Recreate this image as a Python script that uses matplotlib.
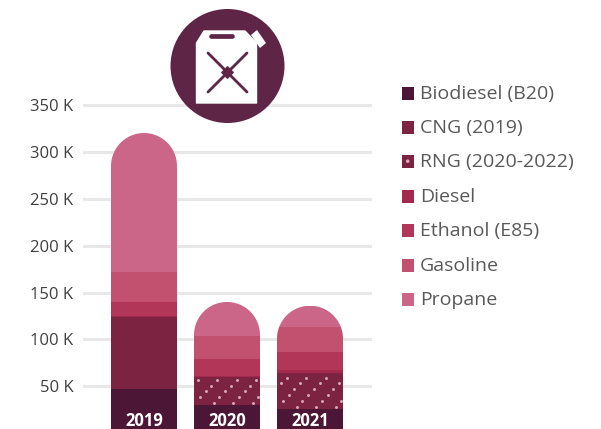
import matplotlib
matplotlib.use('Agg')
import matplotlib.pyplot as plt
import numpy as np
from matplotlib.patches import Circle, Polygon, Rectangle, PathPatch
from matplotlib.path import Path

plt.rcParams['font.family'] = ['Open Sans', 'DejaVu Sans']

W, H = 601, 429

years = ['2019', '2020', '2021']
fuels = ['Biodiesel (B20)', 'CNG (2019)', 'RNG (2020-2022)', 'Diesel',
         'Ethanol (E85)', 'Gasoline', 'Propane']
colors = ['#4C1736', '#7B2340', '#7B2340', '#A32A4E', '#B13658', '#C2506F', '#CC6688']

biodiesel = [47000, 30000, 26000]
cng = [77000, 0, 0]
rng = [0, 30000, 38000]
diesel = [500, 1000, 3500]
ethanol = [15000, 18000, 19000]
gasoline = [33000, 25000, 26500]
propane = [148000, 36000, 23000]
series = [biodiesel, cng, rng, diesel, ethanol, gasoline, propane]

yticks = [50000, 100000, 150000, 200000, 250000, 300000, 350000]
yticklabels = ['50 K', '100 K', '150 K', '200 K', '250 K', '300 K', '350 K']

fig = plt.figure(figsize=(W / 100, H / 100), dpi=100, facecolor='white')

# axes placed in pixels: 83 px per category, 0.936 px per 1000
px_per_unit = 0.000936
base_px = 433
ax_left, ax_right, ax_top, ax_bottom = 83, 372, 95, 429
ax = fig.add_axes([ax_left / W, 1 - ax_bottom / H, (ax_right - ax_left) / W, (ax_bottom - ax_top) / H])
x0_px, dx_px = 144, 83
ax.set_facecolor('none')
for s in ax.spines.values():
    s.set_visible(False)

ax.set_yticks(yticks)
ax.set_yticklabels(yticklabels, fontsize=12, color='#404040')
ax.tick_params(axis='y', length=0, pad=7)
ax.set_xticks([])
ax.grid(axis='y', color='#E8E8E8', linewidth=2.2)
ax.set_axisbelow(True)
ax.set_xlim((ax_left - x0_px) / dx_px, (ax_right - x0_px) / dx_px)
ax.set_ylim((base_px - ax_bottom) / px_per_unit, (base_px - ax_top) / px_per_unit)

bar_w = 66 / dx_px
radius_y = 33 / px_per_unit
px_x = 1 / dx_px
px_y = 1 / px_per_unit
totals = np.sum(series, axis=0)


def rounded_clip(xc, top):
    # bar outline with a half circle on top, in data coords
    t = np.linspace(np.pi, 0, 60)
    xs = xc + bar_w / 2 * np.cos(t)
    ys = top - radius_y + radius_y * np.sin(t)
    verts = [(xc - bar_w / 2, -50000)] + list(zip(xs, ys)) + [(xc + bar_w / 2, -50000)]
    return PathPatch(Path(verts), transform=ax.transData, facecolor='none', edgecolor='none')


x = np.arange(len(years))
bottom = np.zeros(len(years))
for name, vals, col in zip(fuels, series, colors):
    vals = np.array(vals)
    bars = ax.bar(x, vals, bar_w, bottom=bottom, color=col, linewidth=0, zorder=3)
    for i, b in enumerate(bars):
        b.set_clip_path(rounded_clip(x[i], totals[i]))
    if name.startswith('RNG'):
        # dotted diagonals, about 19 px apart with dots every 6 px
        for i in range(len(years)):
            if vals[i] == 0:
                continue
            y1, y2 = bottom[i], bottom[i] + vals[i]
            px, py = [], []
            for k in range(-8, 8):
                for j in range(0, 10):
                    px.append(x[i] - bar_w / 2 + (k * 19.5 + j * 5.8) * px_x)
                    py.append(y1 + (j * 5.8 + 2) * px_y)
            px, py = np.array(px), np.array(py)
            keep = (py < y2 - 0.5 * px_y) & (np.abs(px - x[i]) < bar_w / 2)
            ax.scatter(px[keep], py[keep], s=4.5, color='#D9A8BC', linewidths=0, zorder=4)
    bottom = bottom + vals

for i, yr in enumerate(years):
    ax.text(x[i], 12800, yr, ha='center', va='center', fontsize=12, fontweight='bold', color='white', zorder=5)

# everything else drawn on a pixel overlay
ov = fig.add_axes([0, 0, 1, 1], facecolor='none')
ov.set_xlim(0, W)
ov.set_ylim(H, 0)
ov.axis('off')

# legend
leg_y = [93, 127, 161, 196, 230, 265, 299]
for name, col, ly in zip(fuels, colors, leg_y):
    ov.add_patch(Rectangle((401.5, ly - 6), 12.5, 12.5, facecolor=col, edgecolor='none'))
    if name.startswith('RNG'):
        ov.add_patch(Circle((407.7, ly + 0.2), 1.8, facecolor='#D9A8BC', edgecolor='none'))
    ov.text(420, ly + 1, name, fontsize=14, color='#595959', va='center', ha='left')

# jerry can icon
icon = '#5F2546'
ov.add_patch(Circle((227.5, 66), 57, facecolor=icon, edgecolor='none'))
ov.add_patch(Polygon([(196.5, 103), (196.5, 43), (204, 31), (245, 31), (256.5, 43), (256.5, 103)],
                     closed=True, facecolor='white', edgecolor='white', linewidth=1, joinstyle='round'))
ov.add_patch(Polygon([(251, 35), (257, 30), (266, 43), (260, 48)], closed=True, facecolor='white', edgecolor='none'))
ov.plot([210.5, 231.5], [35.8, 35.8], color=icon, linewidth=3.4, solid_capstyle='round')
ov.plot([208, 247], [53, 92], color=icon, linewidth=2, solid_capstyle='round')
ov.plot([247, 208], [53, 92], color=icon, linewidth=2, solid_capstyle='round')
ov.add_patch(Polygon([(227.5, 66.8), (233.2, 72.5), (227.5, 78.2), (221.8, 72.5)], closed=True, facecolor=icon, edgecolor=icon, linewidth=1, joinstyle='round'))

fig.savefig('out.png', dpi=100, facecolor='white')
